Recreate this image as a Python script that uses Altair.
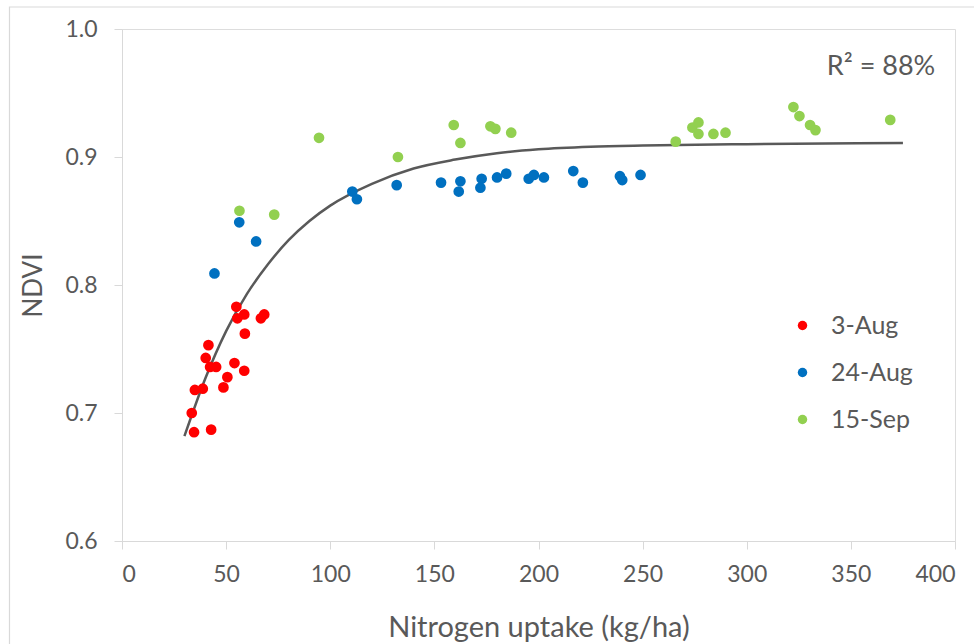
import altair as alt
import pandas as pd

# ---- data ----
aug3_x = [54.9, 55.4, 58.7, 66.7, 68.3, 59.0, 41.5, 40.2, 42.3, 45.2, 54.0, 58.7,
          50.6, 48.7, 35.0, 38.8, 33.5, 34.6, 42.8]
aug3_y = [0.783, 0.774, 0.777, 0.774, 0.777, 0.762, 0.753, 0.743, 0.736, 0.736, 0.739, 0.733,
          0.728, 0.720, 0.718, 0.719, 0.700, 0.685, 0.687]

aug24_x = [56.3, 64.4, 44.4, 110.6, 112.8, 131.9, 153.2, 162.5, 161.7, 172.7, 172.1, 180.1,
           184.5, 195.3, 197.8, 202.6, 216.7, 221.3, 239.1, 240.2, 249.0]
aug24_y = [0.849, 0.834, 0.809, 0.873, 0.867, 0.878, 0.880, 0.881, 0.873, 0.883, 0.876, 0.884,
           0.887, 0.883, 0.886, 0.884, 0.889, 0.880, 0.885, 0.882, 0.886]

sep15_x = [56.4, 73.1, 94.6, 132.5, 159.3, 162.5, 176.9, 179.3, 186.9, 265.9, 273.9, 276.8,
           276.8, 284.0, 289.8, 322.4, 325.3, 330.4, 333.0, 368.9]
sep15_y = [0.858, 0.855, 0.915, 0.900, 0.925, 0.911, 0.924, 0.922, 0.919, 0.912, 0.923, 0.927,
           0.918, 0.918, 0.919, 0.939, 0.932, 0.925, 0.921, 0.929]

series_names = ["3-Aug", "24-Aug", "15-Sep"]
series_colors = ["#FF0000", "#0070C0", "#92D050"]

# fitted curve
curve_x = [30, 40, 50, 60, 70, 80, 90, 100, 120, 140, 160, 180, 200, 225, 250, 300, 375]
curve_y = [0.682, 0.727, 0.764, 0.793, 0.816, 0.835, 0.850, 0.862, 0.879, 0.891, 0.898,
           0.903, 0.906, 0.908, 0.909, 0.910, 0.911]

r2_label = "R² = 88%"

# ---- tables ----
rows = []
for name, xs, ys in zip(series_names, [aug3_x, aug24_x, sep15_x], [aug3_y, aug24_y, sep15_y]):
    for xv, yv in zip(xs, ys):
        rows.append({"date": name, "x": xv, "y": yv})
pts = pd.DataFrame(rows)
curve = pd.DataFrame({"x": curve_x, "y": curve_y})

FONT = "Lato"
TXT = "#595959"
AX = "#D9D9D9"

xscale = alt.Scale(domain=[0, 400], nice=False)
yscale = alt.Scale(domain=[0.6, 1.0], nice=False, zero=False)

xaxis = alt.Axis(values=list(range(0, 401, 50)), grid=False, domainColor=AX, tickColor=AX,
                 tickSize=8, labelFontSize=23, labelColor=TXT, labelFont=FONT, labelPadding=14,
                 title="Nitrogen uptake (kg/ha)", titleFontSize=29, titleColor=TXT,
                 titleFont=FONT, titleFontWeight="normal", titleY=86, titleBaseline="middle")
yaxis = alt.Axis(values=[0.6, 0.7, 0.8, 0.9, 1.0], format=".1f", grid=False, domainColor=AX,
                 tickColor=AX, tickSize=8, labelFontSize=23, labelColor=TXT, labelFont=FONT,
                 labelPadding=17, title="NDVI", titleFontSize=26, titleColor=TXT, titleFont=FONT,
                 titleFontWeight="normal", titleX=-89, titleY=256, titleAngle=-90,
                 titleAlign="center", titleBaseline="middle")

frame = alt.Chart(pd.DataFrame({"a": [0]})).mark_rect(
    fill=None, stroke=AX, strokeWidth=1.2, clip=False
).encode(x=alt.value(-112.5), x2=alt.value(870), y=alt.value(-22), y2=alt.value(620))

line = alt.Chart(curve).mark_line(color="#595959", strokeWidth=2.5, interpolate="monotone").encode(
    x=alt.X("x:Q", scale=xscale, axis=xaxis),
    y=alt.Y("y:Q", scale=yscale, axis=yaxis),
)

points = alt.Chart(pts).mark_circle(size=115, opacity=1).encode(
    x=alt.X("x:Q", scale=xscale, axis=xaxis),
    y=alt.Y("y:Q", scale=yscale, axis=yaxis),
    color=alt.Color("date:N", scale=alt.Scale(domain=series_names, range=series_colors),
                    legend=alt.Legend(title=None, orient="none", legendX=668, legendY=284,
                                      symbolType="circle", symbolSize=90, labelFontSize=25,
                                      labelColor=TXT, labelFont=FONT, labelOffset=16,
                                      rowPadding=21, symbolStrokeWidth=0)),
)

r2 = alt.Chart(pd.DataFrame({"t": [r2_label]})).mark_text(
    fontSize=27, font=FONT, color=TXT, align="center", baseline="middle"
).encode(x=alt.value(759), y=alt.value(38), text="t:N")

chart = alt.layer(frame, line, points, r2).properties(
    width=833, height=512,
    autosize=alt.AutoSizeParams(type="none"),
    padding={"left": 122, "top": 29, "right": 19, "bottom": 103},
).configure_view(stroke=None).configure(background="white")

chart.save("out.html", embed_options={"renderer": "svg", "actions": False})
